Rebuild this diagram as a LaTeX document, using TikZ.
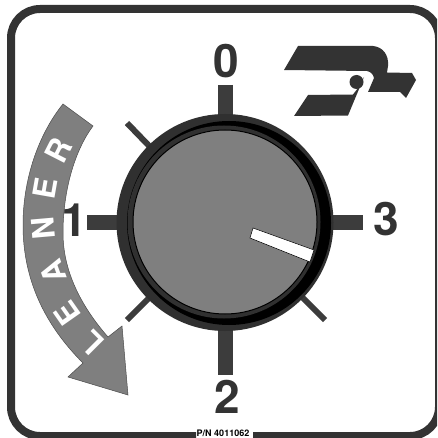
\documentclass[tikz,border=0pt]{standalone}
\usepackage{fontspec}
\setmainfont{TeX Gyre Heros}
\definecolor{plateDark}{HTML}{333333}
\definecolor{tickDark}{HTML}{3C3C3C}
\definecolor{ringDark}{HTML}{303030}
\definecolor{faceGray}{HTML}{7F7F7F}
\begin{document}
\begin{tikzpicture}[
    x=1pt, y=-1pt,
    digit/.style={inner sep=0pt, text=plateDark, font=\fontsize{46}{46}\selectfont\bfseries},
    letter/.style={inner sep=0pt, text=white, font=\fontsize{31}{31}\selectfont\bfseries},
    tick/.style={tickDark, line width=15pt},
    smalltick/.style={tickDark, line width=6pt}
  ]
  \useasboundingbox (0,0) rectangle (437,438);
  \fill[white] (0,0) rectangle (437,438);

  % plate edge, open at the part number
  \begin{scope}
    \clip (0,0) rectangle (437,438);
    \draw[plateDark, line width=8pt, rounded corners=29pt]
      (253,436) -- (439,436) -- (439,9) -- (11,9) -- (11,436) -- (196,436);
  \end{scope}
  \node[inner sep=0pt, font=\fontsize{9}{9}\selectfont\bfseries] (partno) at (223,433.5) {P/N 4011062};

  % ticks
  \draw[tick] (225,85) -- (225,116);
  \draw[tick] (225,329) -- (225,375);
  \draw[tick] (87,222.5) -- (119,222.5);
  \draw[tick] (331,222.5) -- (363,222.5);
  \draw[smalltick] (127,123) -- (155,152);
  \draw[smalltick] (127,320) -- (155,292);
  \draw[smalltick] (325,320) -- (295,290);

  % dial
  \fill[ringDark] (225,222.5) circle (108.5pt);
  \fill[black] (229,223) circle (102pt);
  \fill[ringDark] (224,222) circle (96.5pt);
  \filldraw[fill=faceGray, draw=black, line width=1pt] (225,222) circle (92pt);
  \filldraw[fill=white, draw=black, line width=0.5pt]
    (253,228) -- (250,238) -- (310,262) -- (314,250) -- cycle;

  \node[digit] (zero) at (226.5,61.5) {0};
  \node[digit] (one) at (74,220) {1};
  \node[digit] (two) at (227.5,397) {2};
  \node[digit] (three) at (386,219.5) {3};

  % leaner arrow
  \filldraw[fill=faceGray, draw=black!70, line width=0.5pt]
    (63,104) -- (93,126) .. controls (75,150) and (63,190) .. (63,233)
    .. controls (63,270) and (80,305) .. (108,337) -- (122,326) -- (128,395)
    -- (68,377) -- (83,363) .. controls (45,325) and (23,280) .. (23,225)
    .. controls (23,180) and (38,135) .. (63,104) -- cycle;
  \node[letter, rotate=135] (letterl) at (92,343) {L};
  \node[letter, rotate=125] (lettere) at (67,314) {E};
  \node[letter, rotate=110] (lettera) at (53,272) {A};
  \node[letter, rotate=95] (lettern) at (43,228) {N};
  \node[letter, rotate=80] (letterf) at (45,188) {E};
  \node[letter, rotate=63] (letterr) at (59,150) {R};

  % logo
  \fill[plateDark] (284,70) -- (298,46) -- (373,46)
    .. controls (383,47) and (389,55) .. (388,66) -- (387,72.5) -- (412,73) -- (416,80)
    -- (406,98) -- (400,92) -- (368,92) -- (374,78) .. controls (373,74) and (371,72) .. (367,71) -- cycle;
  \fill[plateDark] (308,95) -- (353,94.5) -- (358,88) -- (364,77) -- (348,115.5) -- (294,116) -- cycle;
  \fill[plateDark] (356.5,82) circle (7pt);
\end{tikzpicture}
\end{document}
